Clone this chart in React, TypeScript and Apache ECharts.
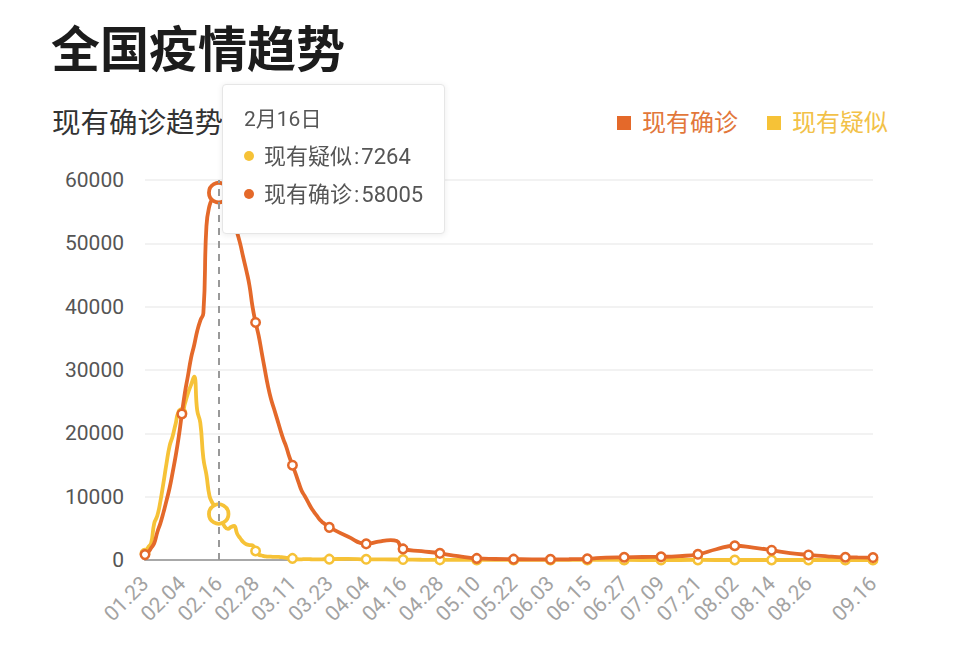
import React, { useEffect, useRef } from 'react';
import * as echarts from 'echarts';

const FONT = 'Roboto, "Noto Sans CJK SC", sans-serif';
const ORANGE = '#e4692a';
const YELLOW = '#f6c237';

// Daily category axis: 2020-01-23 .. 2020-09-16 (238 days)
const AXIS_START = { year: 2020, month: 0, day: 23 };
const AXIS_DAYS = 238;
function buildDates(): string[] {
  const out: string[] = [];
  for (let i = 0; i < AXIS_DAYS; i++) {
    const d = new Date(AXIS_START.year, AXIS_START.month, AXIS_START.day + i);
    const mm = String(d.getMonth() + 1).padStart(2, '0');
    const dd = String(d.getDate()).padStart(2, '0');
    out.push(`${mm}.${dd}`);
  }
  return out;
}
const dates = buildDates();
const hiddenLabels = ['09.07'];

// Daily values 01.23 .. 03.23
const confirmedEarly = [
  850, 1220, 1890, 2640, 4390, 5790, 7480, 9380, 11370, 13840,
  16470, 19490, 23060, 26430, 29130, 31930, 33910, 36160, 37810, 38990,
  52730, 55960, 57090, 57640, 58005, 58090, 57880, 56390, 55050, 53370,
  51690, 49910, 47760, 45690, 43350, 40010, 37510, 35420, 32750, 30100,
  27530, 25450, 23880, 22280, 20640, 19130, 17840, 16270, 14970, 13680,
  12260, 10920, 10110, 9220, 8340, 7600, 6960, 6300, 5870, 5500,
  5150,
];
const suspectedEarly = [
  1072, 1965, 2684, 5794, 6973, 9239, 12167, 15238, 17988, 19544,
  21558, 23214, 23260, 24702, 26359, 27657, 28942, 23589, 21675, 16067,
  13435, 10109, 8969, 8228, 7264, 6242, 5248, 4922, 5206, 5365,
  4148, 3434, 2824, 2491, 2358, 2308, 1418, 851, 715, 587,
  520, 522, 482, 502, 458, 421, 349, 285, 253, 147,
  115, 113, 134, 128, 119, 105, 104, 106, 118, 136,
  132,
];

// Later, sparser readings
const confirmedLateDates = [
  '03.29', '04.04', '04.08', '04.12', '04.14', '04.16', '04.22', '04.28', '05.04', '05.10',
  '05.16', '05.22', '05.28', '06.03', '06.09', '06.15', '06.21', '06.27', '07.03', '07.09',
  '07.15', '07.21', '07.27', '08.02', '08.08', '08.14', '08.20', '08.26', '09.01', '09.07',
  '09.11', '09.16',
];
const confirmedLateValues = [
  3700, 2550, 2900, 3150, 3000, 1750, 1400, 1050, 600, 250,
  160, 130, 110, 110, 120, 180, 380, 430, 470, 500,
  620, 900, 1700, 2250, 1950, 1550, 1100, 800, 580, 430,
  400, 380,
];
const suspectedLateDates = [
  '03.29', '04.04', '04.10', '04.16', '04.22', '04.28', '05.04', '05.10', '05.22', '06.03',
  '06.15', '06.27', '07.09', '07.21', '08.02', '08.14', '08.26', '09.07', '09.16',
];
const suspectedLateValues = [
  180, 110, 90, 70, 40, 25, 10, 8, 5, 4,
  6, 5, 3, 4, 2, 2, 1, 0, 1,
];

const legendNames = ['现有确诊', '现有疑似'];
const highlightIndex = 24; // 02.16

function buildSeries(early: number[], lateDates: string[], lateValues: number[]) {
  const data: [string, number][] = early.map((v, i) => [dates[i], v]);
  lateDates.forEach((d, i) => data.push([d, lateValues[i]]));
  return data;
}

export default function App() {
  const ref = useRef<HTMLDivElement>(null);
  useEffect(() => {
    document.body.style.margin = '0';
    const chart = echarts.init(ref.current!, null, { renderer: 'svg' });
    const mkSeries = (name: string, color: string, data: [string, number][], z: number) => ({
      name,
      type: 'line',
      data,
      z,
      smooth: true,
      symbol: 'circle',
      symbolSize: 8.5,
      showSymbol: true,
      lineStyle: { width: 3.8, color },
      itemStyle: { color: '#fff', borderColor: color, borderWidth: 2.5 },
      emphasis: {
        scale: 2.3,
        lineStyle: { width: 3.8, color },
        itemStyle: { color: '#fff', borderColor: color, borderWidth: 3.8 },
      },
    });
    const option: any = {
      animation: false,
      backgroundColor: '#fff',
      textStyle: { fontFamily: FONT },
      title: [
        {
          text: '全国疫情趋势',
          left: 46,
          top: 21,
          textStyle: { fontSize: 49, fontWeight: 'bold', color: '#1c1c1c', fontFamily: FONT },
        },
        {
          text: '现有确诊趋势',
          left: 47,
          top: 104,
          textStyle: { fontSize: 28.5, fontWeight: 'normal', color: '#333', fontFamily: FONT },
        },
      ],
      legend: {
        right: 67,
        top: 106,
        itemWidth: 26,
        itemHeight: 14,
        itemGap: 29,
        icon: 'path://M0,0H10V10H0Z',
        textStyle: { fontSize: 24, fontFamily: FONT },
        data: [
          { name: legendNames[0], itemStyle: { color: ORANGE, borderWidth: 0 }, textStyle: { color: '#e2773a' } },
          { name: legendNames[1], itemStyle: { color: YELLOW, borderWidth: 0 }, textStyle: { color: '#f2c148' } },
        ],
      },
      grid: { left: 145, right: 87, top: 180, bottom: 96 },
      tooltip: {
        trigger: 'axis',
        alwaysShowContent: true,
        transitionDuration: 0,
        position: [222, 84],
        backgroundColor: '#fff',
        borderColor: '#e6e6e6',
        borderWidth: 1,
        padding: [15, 21, 19, 21],
        extraCssText: 'box-shadow: 0 1px 6px rgba(0,0,0,0.08); border-radius: 4px;',
        textStyle: { fontSize: 22, color: '#555', fontFamily: FONT },
        axisPointer: { type: 'line', lineStyle: { color: '#999', width: 2, type: [7, 6] } },
        formatter: (params: any[]) => {
          const axisValue: string = params[0].axisValue;
          const [mm, dd] = axisValue.split('.');
          let html = `<div style="line-height:38px;white-space:nowrap;font-size:21px">${Number(mm)}月${Number(dd)}日</div>`;
          const sorted = [...params].sort((a, b) => b.seriesIndex - a.seriesIndex);
          sorted.forEach((p) => {
            const color = p.seriesIndex === 0 ? ORANGE : YELLOW;
            html += `<div style="line-height:38px;white-space:nowrap"><span style="display:inline-block;width:10px;height:10px;border-radius:5px;background:${color};margin-right:10px;vertical-align:middle;position:relative;top:-2px"></span>${p.seriesName}<span style="margin:0 2px 0 2px">:</span>${p.value[1]}</div>`;
          });
          return html;
        },
      },
      xAxis: {
        type: 'category',
        data: dates,
        boundaryGap: false,
        axisLine: { lineStyle: { color: '#a8a8a8', width: 2 } },
        axisTick: { show: false },
        axisLabel: {
          interval: 11,
          showMaxLabel: true,
          rotate: 45,
          margin: 20,
          color: '#a3a3a3',
          fontSize: 21,
          fontFamily: FONT,
          formatter: (v: string) => (hiddenLabels.includes(v) ? '' : v),
        },
      },
      yAxis: {
        type: 'value',
        min: 0,
        max: 60000,
        interval: 10000,
        axisLine: { show: false },
        axisTick: { show: false },
        axisLabel: { color: '#555', fontSize: 21, margin: 21, fontFamily: FONT, formatter: (v: number) => String(v) },
        splitLine: { lineStyle: { color: '#eeeeee', width: 1.5 } },
      },
      series: [
        mkSeries(legendNames[0], ORANGE, buildSeries(confirmedEarly, confirmedLateDates, confirmedLateValues), 3),
        mkSeries(legendNames[1], YELLOW, buildSeries(suspectedEarly, suspectedLateDates, suspectedLateValues), 2),
      ],
    };
    chart.setOption(option);
    chart.dispatchAction({ type: 'showTip', seriesIndex: 0, dataIndex: highlightIndex });
    return () => chart.dispose();
  }, []);
  return (
    <div
      ref={ref}
      style={{ position: 'absolute', left: 0, top: 0, width: 960, height: 656, background: '#fff' }}
    />
  );
}
